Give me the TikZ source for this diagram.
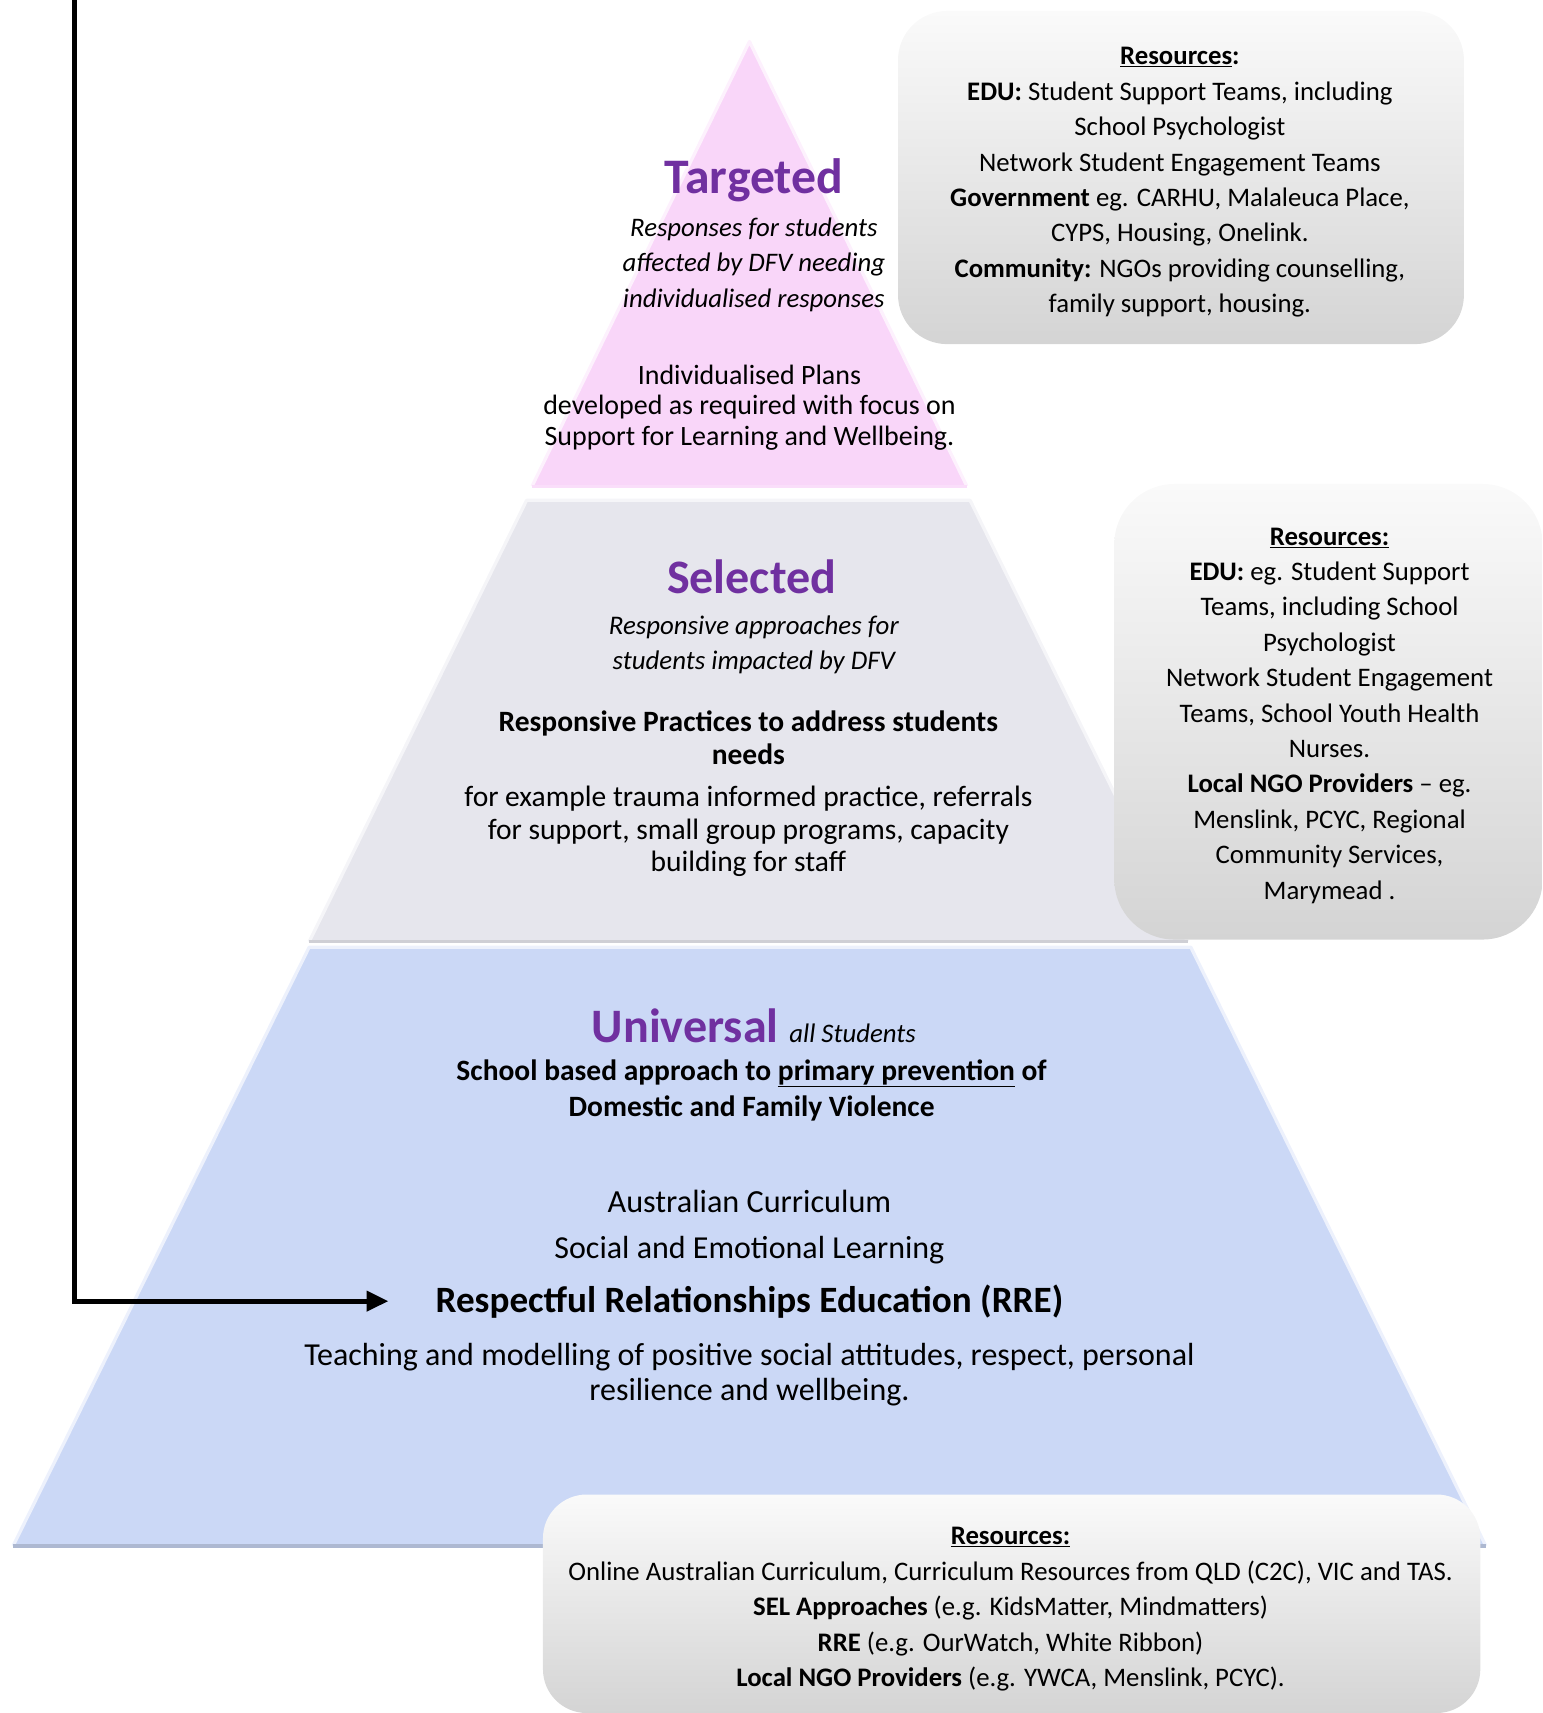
\documentclass[tikz,border=0pt]{standalone}
\usepackage{fontspec}
\setmainfont{Carlito}
\usetikzlibrary{arrows.meta,positioning}

\definecolor{tierpurple}{RGB}{112,48,160}
\definecolor{pinktier}{RGB}{249,214,249}
\definecolor{greytier}{RGB}{230,230,237}
\definecolor{bluetier}{RGB}{203,216,246}
\definecolor{boxtop}{RGB}{250,250,250}
\definecolor{boxbottom}{RGB}{212,212,212}

\tikzset{
  tiername/.style={inner sep=0pt, font=\fontsize{44}{48}\selectfont\bfseries, text=tierpurple},
  tiertext/.style={align=center, inner sep=0pt, font=\fontsize{25}{30}\selectfont},
  resbox/.style={top color=boxtop, bottom color=boxbottom},
  restext/.style={align=center, inner sep=0pt, font=\fontsize{24.5}{32.4}\selectfont},
  bevel/.style={line width=3pt, line join=round},
}

\begin{document}
\begin{tikzpicture}[x=1pt,y=-1pt]
  \useasboundingbox (0,0) rectangle (1412,1568);

  % pyramid tiers
  \fill[pinktier] (686,38) -- (885,445) -- (487,445) -- cycle;
  \draw[bevel, pinktier!35!white] (487,445) -- (686,38) -- (885,445);
  \draw[bevel, pinktier!80!white] (487,445) -- (885,445);

  \fill[greytier] (482,458) -- (888,458) -- (1087,862) -- (283,862) -- cycle;
  \draw[bevel, greytier!40!white] (283,862) -- (482,458) -- (888,458) -- (1087,862);
  \draw[bevel, greytier!90!black] (283,862) -- (1087,862);

  \fill[bluetier] (283,867) -- (1090,867) -- (1360,1415) -- (12,1415) -- cycle;
  \draw[bevel, bluetier!35!white] (12,1415) -- (283,867) -- (1090,867) -- (1360,1415);
  \draw[bevel, bluetier!85!black] (12,1415) -- (1360,1415);

  % resource boxes
  \path[resbox, rounded corners=45pt] (822,10) rectangle (1340,315);
  \path[resbox, rounded corners=55pt] (1020,443) rectangle (1412,860);
  \path[resbox, rounded corners=40pt] (497,1368) rectangle (1355,1568);

  % targeted
  \node[tiername, font=\fontsize{45.5}{48}\selectfont\bfseries] (targeted) at (690,165) {Targeted};
  \node[tiertext, font=\fontsize{24.5}{32.5}\selectfont\itshape] (targetedwho) at (690,242)
    {Responses for students\\ affected by DFV needing\\ individualised responses};
  \node[tiertext, font=\fontsize{25.6}{28}\selectfont] (targetedplan) at (686,373)
    {Individualised Plans\\ developed as required with focus on\\ Support for Learning and Wellbeing.};

  % selected
  \node[tiername] (selected) at (688,528) {Selected};
  \node[tiertext, font=\fontsize{24.6}{32}\selectfont\itshape] (selectedwho) at (690,590)
    {Responsive approaches for\\ students impacted by DFV};
  \node[tiertext, font=\fontsize{27}{30}\selectfont\bfseries] (selectedpractice) at (685,675)
    {Responsive Practices to address students\\ needs};
  \node[tiertext, font=\fontsize{27}{30}\selectfont] (selectedexamples) at (685,761)
    {for example trauma informed practice, referrals\\ for support, small group programs, capacity\\ building for staff};

  % universal
  \node[tiername] (universal) at (690,939)
    {Universal {\mdseries\itshape\fontsize{24.5}{26}\selectfont\color{black} all Students}};
  \node[tiertext, font=\fontsize{27}{33}\selectfont\bfseries] (universalaim) at (688,998)
    {School based approach to \underline{primary prevention} of\\ Domestic and Family Violence};
  \node[tiertext, font=\fontsize{29.5}{32}\selectfont] (curriculum) at (686,1100) {Australian Curriculum};
  \node[tiertext, font=\fontsize{29.3}{32}\selectfont] (sel) at (686,1144) {Social and Emotional Learning};
  \node[tiertext, font=\fontsize{34}{38}\selectfont\bfseries] (rre) at (686,1191)
    {Respectful Relationships Education (RRE)};
  \node[tiertext, font=\fontsize{29.3}{32}\selectfont] (teaching) at (686,1258)
    {Teaching and modelling of positive social attitudes, respect, personal\\ resilience and wellbeing.};

  % resources
  \node[restext] (restargeted) at (1080,167)
    {{\bfseries\underline{Resources}:}\\
     {\bfseries EDU:} Student Support Teams, including\\
     School Psychologist\\
     Network Student Engagement Teams\\
     {\bfseries Government} eg. CARHU, Malaleuca Place,\\
     CYPS, Housing, Onelink.\\
     {\bfseries Community:} NGOs providing counselling,\\
     family support, housing.};
  \node[restext] (resselected) at (1217,655)
    {{\bfseries\underline{Resources:}}\\
     {\bfseries EDU:} eg. Student Support\\
     Teams, including School\\
     Psychologist\\
     Network Student Engagement\\
     Teams, School Youth Health\\
     Nurses.\\
     {\bfseries Local NGO Providers} -- eg.\\
     Menslink, PCYC, Regional\\
     Community Services,\\
     Marymead .};
  \node[restext] (resuniversal) at (925,1473)
    {{\bfseries\underline{Resources:}}\\
     Online Australian Curriculum, Curriculum Resources from QLD (C2C), VIC and TAS.\\
     {\bfseries SEL Approaches} (e.g. KidsMatter, Mindmatters)\\
     {\bfseries RRE} (e.g. OurWatch, White Ribbon)\\
     {\bfseries Local NGO Providers} (e.g. YWCA, Menslink, PCYC).};

  % arrow into RRE
  \coordinate (linetop) at (68,0);
  \draw[line width=4.5pt, -{Triangle[length=20pt,width=18pt]}, shorten >=43pt]
    (linetop) |- (rre.west);
\end{tikzpicture}
\end{document}
